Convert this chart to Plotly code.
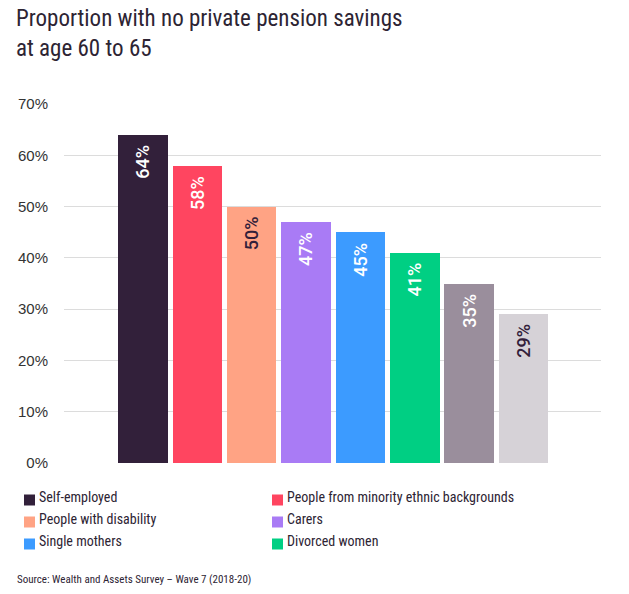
import plotly.graph_objects as go

# ---- data ----
categories = [
    "Self-employed",
    "People from minority ethnic backgrounds",
    "People with disability",
    "Carers",
    "Single mothers",
    "Divorced women",
    "Group 7",
    "Group 8",
]
values = [64, 58, 50, 47, 45, 41, 35, 29]
in_legend = [True, True, True, True, True, True, False, False]
colors = ["#32203a", "#ff4560", "#ffa384", "#a97bf5", "#3c9bff", "#00cf83", "#9a8e9c", "#d6d2d7"]
label_colors = ["white", "white", "#32203a", "white", "white", "white", "white", "#32203a"]
tick_vals = [0, 10, 20, 30, 40, 50, 60, 70]
tick_text = ["0%", "10%", "20%", "30%", "40%", "50%", "60%", "70%"]
title_text = "Proportion with no private pension savings<br>at age 60 to 65"
source_text = "Source: Wealth and Assets Survey \u2013 Wave 7 (2018-20)"

W, H = 629, 594
ML, MR, MT, MB = 64, 28, 104, 131
PW, PH = W - ML - MR, H - MT - MB

NARROW = "Roboto Condensed, Liberation Sans Narrow, Roboto, sans-serif"
REG = "Liberation Sans, Arial, sans-serif"
DARK = "#2d2433"


def px2x(px):
    return (px - ML) / PW


def py2y(py):
    return (H - MB - py) / PH


fig = go.Figure()
xs = list(range(len(categories)))
for i, (c, v, col) in enumerate(zip(categories, values, colors)):
    fig.add_trace(go.Bar(
        x=[xs[i]], y=[v], name=c, marker_color=col, marker_line_width=0,
        width=0.91, showlegend=False,
        hovertemplate=c + ": %{y}%<extra></extra>",
    ))

annotations = []
# title
annotations.append(dict(
    x=px2x(14), y=py2y(3), xref="paper", yref="paper", text=title_text,
    showarrow=False, xanchor="left", yanchor="top", align="left",
    font=dict(family=NARROW, size=23, color=DARK),
))
# bar value labels
for i, (v, lc) in enumerate(zip(values, label_colors)):
    annotations.append(dict(
        x=xs[i], y=v, xref="x", yref="y", text=f"{v}%", showarrow=False,
        textangle=-90, yanchor="top", xanchor="center", yshift=-8,
        font=dict(family="Roboto, sans-serif", size=18, color=lc, weight=500),
    ))

# manual legend (two columns)
legend_items = [(c, col) for c, col, s in zip(categories, colors, in_legend) if s]
shapes = []
col_sw_x = [24, 272]
col_tx_x = [36.5, 284.5]
row_y = [500, 522, 544]
for k, (c, col) in enumerate(legend_items):
    cc, rr = k % 2, k // 2
    sy = row_y[rr]
    shapes.append(dict(
        type="rect", xref="paper", yref="paper",
        x0=px2x(col_sw_x[cc]), x1=px2x(col_sw_x[cc] + 11),
        y0=py2y(sy + 5.5), y1=py2y(sy - 5.5),
        fillcolor=col, line_width=0,
    ))
    annotations.append(dict(
        x=px2x(col_tx_x[cc]), y=py2y(sy - 3), xref="paper", yref="paper",
        text=c, showarrow=False, xanchor="left", yanchor="middle",
        font=dict(family=NARROW, size=14, color=DARK),
    ))

# source
annotations.append(dict(
    x=px2x(15), y=py2y(579), xref="paper", yref="paper", text=source_text,
    showarrow=False, xanchor="left", yanchor="middle",
    font=dict(family=NARROW, size=11, color=DARK),
))

fig.update_layout(
    width=W, height=H,
    margin=dict(l=ML, r=MR, t=MT, b=MB, pad=0),
    paper_bgcolor="white", plot_bgcolor="white",
    xaxis=dict(
        range=[-1.453, len(categories) - 1 + 1.425], showgrid=False,
        zeroline=False, showticklabels=False, showline=False, fixedrange=True,
    ),
    yaxis=dict(
        range=[0, 70], tickvals=tick_vals, ticktext=tick_text,
        showgrid=True, gridcolor="#dcdcdc", gridwidth=1, zeroline=False,
        showline=False, ticks="", ticklabelstandoff=15,
        tickfont=dict(family=REG, size=15, color="#333333"),
    ),
    showlegend=False,
    bargap=0,
    annotations=annotations,
    shapes=shapes,
)

fig.write_html("out.html")
